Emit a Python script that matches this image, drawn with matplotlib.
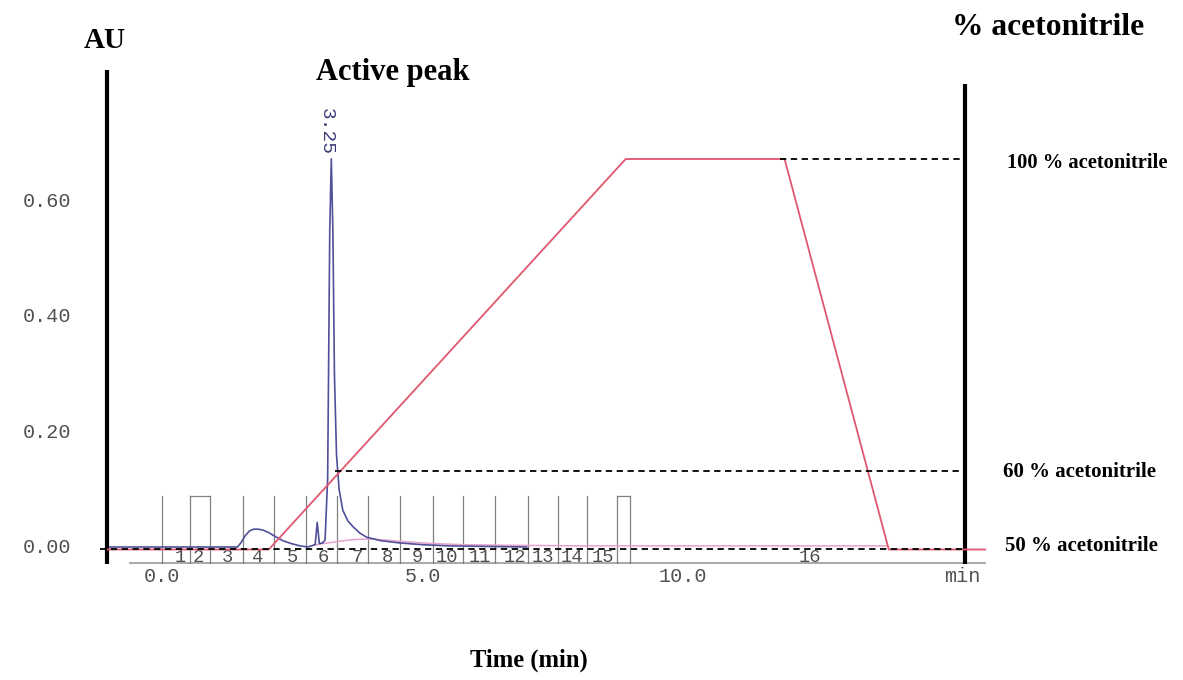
import numpy as np
import matplotlib
matplotlib.use("Agg")
import matplotlib.pyplot as plt

# chromatogram (AU) against time (min)
blue_t = [-1.04, 1.45, 1.52, 1.60, 1.68, 1.76, 1.85, 1.95, 2.05, 2.18, 2.32, 2.48, 2.65, 2.80,
          2.94, 2.98, 3.02, 3.08, 3.13, 3.18, 3.22, 3.25, 3.28, 3.31, 3.35, 3.40, 3.47, 3.57,
          3.67, 3.80, 3.93, 4.20, 4.57, 5.00, 5.50, 6.20, 7.00]
blue_v = [0.0, 0.0, 0.008, 0.020, 0.028, 0.031, 0.031, 0.029, 0.025, 0.018, 0.011, 0.006, 0.002, 0.0,
          0.004, 0.043, 0.006, 0.007, 0.012, 0.12, 0.55, 0.675, 0.55, 0.30, 0.16, 0.10, 0.064, 0.045,
          0.035, 0.024, 0.017, 0.011, 0.007, 0.004, 0.002, 0.001, 0.0]

# second detector trace
pink_t = [2.90, 3.10, 3.40, 3.70, 4.00, 4.30, 4.70, 5.20, 5.80, 6.60, 8.00, 10.0, 13.9]
pink_v = [0.003, 0.006, 0.010, 0.013, 0.014, 0.012, 0.009, 0.006, 0.004, 0.003, 0.002, 0.002, 0.002]

# acetonitrile gradient (%)
grad_t = [-1.04, 2.05, 8.90, 11.95, 13.95, 15.8]
grad_pct = [50, 50, 100, 100, 50, 50]

# reference levels of the gradient
level_pct = [50, 60, 100]
level_start = [-1.19, 3.32, 11.86]
level_text = ["50 % acetonitrile", "60 % acetonitrile", "100 % acetonitrile"]

# fraction collector marks
frac_edges = [0.0, 0.54, 0.92, 1.55, 2.15, 2.76, 3.36, 3.95, 4.57, 5.20, 5.78, 6.39,
              7.02, 7.60, 8.16, 8.73, 8.98]
frac_label_t = [0.35, 0.69, 1.25, 1.84, 2.50, 3.09, 3.74, 4.32, 4.91, 5.47, 6.10,
                6.78, 7.31, 7.87, 8.46, 12.44]
frac_boxes = [(0.54, 0.92), (8.73, 8.98)]

yticks = [0.0, 0.2, 0.4, 0.6]
xticks = [0.0, 5.0, 10.0]

fig = plt.figure(figsize=(11.83, 6.8), dpi=100)
ax = fig.add_axes([0, 0, 1, 1])
ax.set_xlim(-3.109, 19.597)
ax.set_ylim(-0.2313, 0.9513)
ax.axis("off")
ax2 = ax.twinx()
ax2.set_ylim(33.29, 120.36)
ax2.axis("off")

mono = dict(family="Liberation Mono", color="#505050")
serif = dict(family="Liberation Serif", weight="bold", color="black")

# base line of the time axis
ax.plot([-0.62, 15.8], [-0.028, -0.028], color="#9a9a9a", lw=1.2)

# fraction marks
ftop = 0.088
for t in frac_edges:
    ax.plot([t, t], [-0.028, ftop], color="#808080", lw=0.9)
for a, b in frac_boxes:
    ax.plot([a, b], [ftop, ftop], color="#808080", lw=0.9)
for i, t in enumerate(frac_label_t):
    ax.text(t, -0.0174, str(i + 1), ha="center", va="center", fontsize=13.5, **mono)

# traces
ax.plot(pink_t, pink_v, color="#e6a3cc", lw=1.1, zorder=3)
ax.plot(blue_t, blue_v, color="#4f4f9a", lw=1.2, zorder=4)
ax2.plot(grad_t, grad_pct, color="#e0576f", lw=1.3, zorder=3)

# dashed level lines with labels
for p, s in zip(level_pct, level_start):
    ax2.plot([s, 15.41], [p, p], color="black", lw=1.3, ls=(0, (3.5, 2.5)), zorder=5)
ax.text(17.75, 0.668, level_text[2], ha="center", va="center", fontsize=14.8, **serif)
ax.text(17.62, 0.130, level_text[1], ha="center", va="center", fontsize=15, **serif)
ax.text(17.64, 0.002, level_text[0], ha="center", va="center", fontsize=15, **serif)

# peak label
ax.text(3.16, 0.682, "3.25", rotation=-90, ha="center", va="bottom", fontsize=14,
        family="Liberation Mono", color="#3a3a7a")

# heavy vertical axis bars
ax.plot([-1.056, -1.056], [-0.029, 0.83], color="black", lw=3, solid_capstyle="butt", zorder=6)
ax.plot([15.41, 15.41], [-0.029, 0.805], color="black", lw=3, solid_capstyle="butt", zorder=6)

# tick labels
for v in yticks:
    ax.text(-2.207, v, "%.2f" % v, ha="center", va="center", fontsize=14.5, **mono)
for t in xticks:
    ax.text(t, -0.052, "%.1f" % t, ha="center", va="center", fontsize=14.5, **mono)
ax.text(15.36, -0.052, "min", ha="center", va="center", fontsize=14.5, **mono)

# titles
ax.text(-1.094, 0.881, "AU", ha="center", va="center", fontsize=21, **serif)
ax.text(4.434, 0.826, "Active peak", ha="center", va="center", fontsize=22, **serif)
ax.text(17.0, 0.903, "% acetonitrile", ha="center", va="center", fontsize=22.7, **serif)
ax.text(7.044, -0.1965, "Time (min)", ha="center", va="center", fontsize=17.7, **serif)

fig.savefig("out.png", dpi=100, facecolor="white")
